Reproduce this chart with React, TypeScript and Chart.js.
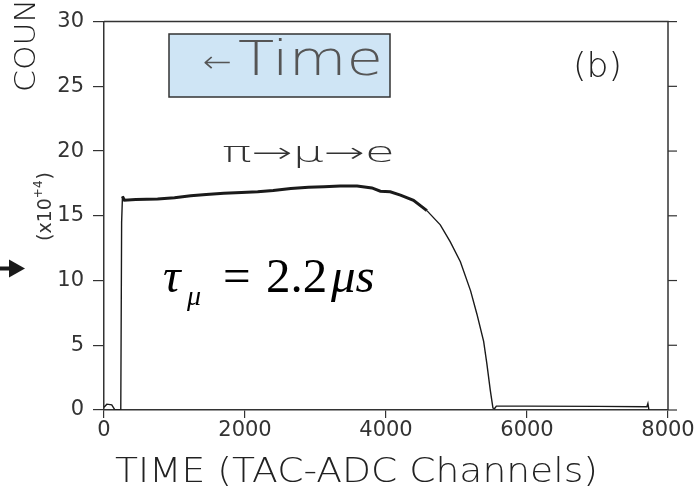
import { useEffect, useRef } from "react";
import { Chart, registerables } from "chart.js";

Chart.register(...registerables);

// TAC-ADC channel of each sample along the decay trace
const channels = [
  0, 40, 110, 150, 200, 238, 250, 262, 290, 450, 760, 1000, 1230, 1450, 1700,
  1950, 2180, 2400, 2650, 2900, 3120, 3350, 3590, 3800, 3920, 4060, 4205, 4390,
  4580, 4770, 4910, 5055, 5200, 5290, 5385, 5430, 5480, 5517, 5540, 5565, 6000,
  7000, 7700, 7715, 7730,
];
// Counts per channel, in units of 10^4
const counts = [
  0.2, 0.45, 0.4, 0.05, 0, 0, 14.5, 16.5, 16.2, 16.25, 16.3, 16.4, 16.55, 16.65,
  16.75, 16.8, 16.85, 16.95, 17.1, 17.2, 17.25, 17.3, 17.3, 17.15, 16.9, 16.85,
  16.6, 16.2, 15.4, 14.3, 13.0, 11.45, 9.2, 7.4, 5.3, 3.6, 1.5, 0.15, 0.1, 0.3,
  0.3, 0.28, 0.25, 0.5, 0,
];
const xTicks = [0, 2000, 4000, 6000, 8000];
const yTicks = [0, 5, 10, 15, 20, 25, 30];

const xTitle = "TIME (TAC-ADC Channels)";
const yTitle = "COUNTS";
const boxLabel = "Time";
const decayLabel = "π→μ→e";
const panelLabel = "(b)";

const INK = "#333333";
const DARK = "#222222";
const SANS = '"DejaVu Sans", sans-serif';
const SERIF = '"Liberation Serif", "Times New Roman", serif';

function fitText(
  ctx: CanvasRenderingContext2D,
  text: string,
  x: number,
  y: number,
  width: number,
  font: string,
  color: string
) {
  ctx.save();
  ctx.font = font;
  ctx.fillStyle = color;
  ctx.textBaseline = "alphabetic";
  ctx.textAlign = "left";
  const m = ctx.measureText(text).width;
  ctx.translate(x, y);
  ctx.scale(width / m, 1);
  ctx.fillText(text, 0, 0);
  ctx.restore();
}

const framePlugin = {
  id: "frame",
  afterDraw(chart: any) {
    const { ctx, chartArea } = chart;
    const { left, right, top, bottom } = chartArea;
    const yScale = chart.scales.y;
    ctx.save();
    ctx.strokeStyle = INK;
    ctx.lineWidth = 1.5;
    // top and right borders
    ctx.beginPath();
    ctx.moveTo(left, top);
    ctx.lineTo(right, top);
    ctx.lineTo(right, bottom);
    ctx.stroke();
    // outward ticks on the right axis
    ctx.lineWidth = 1.2;
    yTicks.forEach((v) => {
      const py = yScale.getPixelForValue(v);
      ctx.beginPath();
      ctx.moveTo(right, py);
      ctx.lineTo(right + 9, py);
      ctx.stroke();
    });
    ctx.restore();
  },
};

const notesPlugin = {
  id: "notes",
  afterDraw(chart: any) {
    const ctx: CanvasRenderingContext2D = chart.ctx;
    ctx.save();

    // vertical axis title, running upward
    ctx.save();
    ctx.translate(35, 92);
    ctx.rotate(-Math.PI / 2);
    ctx.scale(1.12, 1);
    ctx.font = `200 28px ${SANS}`;
    ctx.fillStyle = DARK;
    ctx.textBaseline = "alphabetic";
    ctx.fillText(yTitle, 0, 0);
    ctx.restore();

    // scale factor note (x10^+4)
    ctx.save();
    ctx.translate(51, 241);
    ctx.rotate(-Math.PI / 2);
    ctx.fillStyle = INK;
    ctx.textBaseline = "alphabetic";
    ctx.font = `19px ${SANS}`;
    let cx = 0;
    ctx.fillText("(x10", cx, 0);
    cx += ctx.measureText("(x10").width;
    ctx.font = `12px ${SANS}`;
    ctx.fillText("+4", cx, -9);
    cx += ctx.measureText("+4").width + 1;
    ctx.font = `19px ${SANS}`;
    ctx.fillText(")", cx, 0);
    ctx.restore();

    // pointer arrow at the left edge
    ctx.fillStyle = "#1a1a1a";
    ctx.fillRect(0, 266.5, 12, 4);
    ctx.beginPath();
    ctx.moveTo(9, 259.5);
    ctx.lineTo(25, 268.5);
    ctx.lineTo(9, 277.5);
    ctx.closePath();
    ctx.fill();

    // boxed time-direction label
    ctx.fillStyle = "#cfe5f5";
    ctx.fillRect(169, 34, 221, 63);
    ctx.strokeStyle = "#333";
    ctx.lineWidth = 1.5;
    ctx.strokeRect(169, 34, 221, 63);
    fitText(ctx, "←", 203, 72, 29, `200 30px ${SANS}`, "#555");
    fitText(ctx, boxLabel, 238, 75, 145, `200 48px ${SANS}`, "#555");

    // decay chain
    fitText(ctx, decayLabel, 222, 162, 173, `200 28px ${SANS}`, "#333");

    // panel tag
    fitText(ctx, panelLabel, 573, 77, 49, `200 33px ${SANS}`, DARK);

    // muon lifetime
    ctx.fillStyle = "#000";
    ctx.textBaseline = "alphabetic";
    ctx.font = `italic 49px ${SERIF}`;
    ctx.fillText("τ", 163, 292);
    ctx.font = `italic 28px ${SERIF}`;
    ctx.fillText("μ", 187, 305);
    ctx.font = `49px ${SERIF}`;
    ctx.fillText("=", 223, 292);
    ctx.fillText("2.2", 266, 292);
    ctx.font = `italic 49px ${SERIF}`;
    ctx.fillText("μs", 331, 292);

    // horizontal axis title
    fitText(ctx, xTitle, 115, 482, 483, `200 34px ${SANS}`, DARK);

    ctx.restore();
  },
};

export default function App() {
  const ref = useRef<HTMLCanvasElement | null>(null);

  useEffect(() => {
    if (!ref.current) return;
    const chart = new Chart(ref.current, {
      type: "line",
      data: {
        datasets: [
          {
            data: channels.map((c, i) => ({ x: c, y: counts[i] })),
            borderColor: "#1a1a1a",
            borderWidth: 1.4,
            pointRadius: 0,
            tension: 0,
            segment: {
              borderWidth: (c: any) =>
                c.p0.parsed.y > 14.8 && c.p1.parsed.y > 14.8 ? 3 : 1.4,
            },
          },
        ],
      },
      options: {
        animation: false,
        responsive: false,
        devicePixelRatio: 1,
        layout: { padding: { left: 0, top: 17, right: 30, bottom: 0 } },
        plugins: {
          legend: { display: false },
          tooltip: { enabled: false },
        },
        scales: {
          x: {
            type: "linear",
            min: 0,
            max: 8000,
            afterBuildTicks: (s: any) => {
              s.ticks = xTicks.map((v) => ({ value: v }));
            },
            afterFit: (s: any) => {
              s.height = 90;
            },
            ticks: {
              color: INK,
              font: { family: SANS, size: 21 },
              padding: 0,
              maxRotation: 0,
              autoSkip: false,
              callback: (v: any) => String(v),
            },
            grid: {
              display: true,
              drawOnChartArea: false,
              drawTicks: true,
              tickLength: 8,
              color: INK,
              lineWidth: 1.2,
            },
            border: { display: true, color: INK, width: 1.5 },
          },
          y: {
            min: 0,
            max: 30,
            afterBuildTicks: (s: any) => {
              s.ticks = yTicks.map((v) => ({ value: v }));
            },
            afterFit: (s: any) => {
              s.width = 104;
            },
            ticks: {
              color: INK,
              font: { family: SANS, size: 21 },
              padding: 9,
              autoSkip: false,
              callback: (v: any) => String(v),
            },
            grid: {
              display: true,
              drawOnChartArea: false,
              drawTicks: true,
              tickLength: 11,
              color: INK,
              lineWidth: 1.2,
            },
            border: { display: true, color: INK, width: 1.5 },
          },
        },
      },
      plugins: [framePlugin, notesPlugin],
    });
    return () => chart.destroy();
  }, []);

  return (
    <div
      style={{
        position: "absolute",
        left: 0,
        top: 0,
        width: 698,
        height: 500,
        background: "#fff",
      }}
    >
      <canvas ref={ref} width={698} height={500} />
    </div>
  );
}
